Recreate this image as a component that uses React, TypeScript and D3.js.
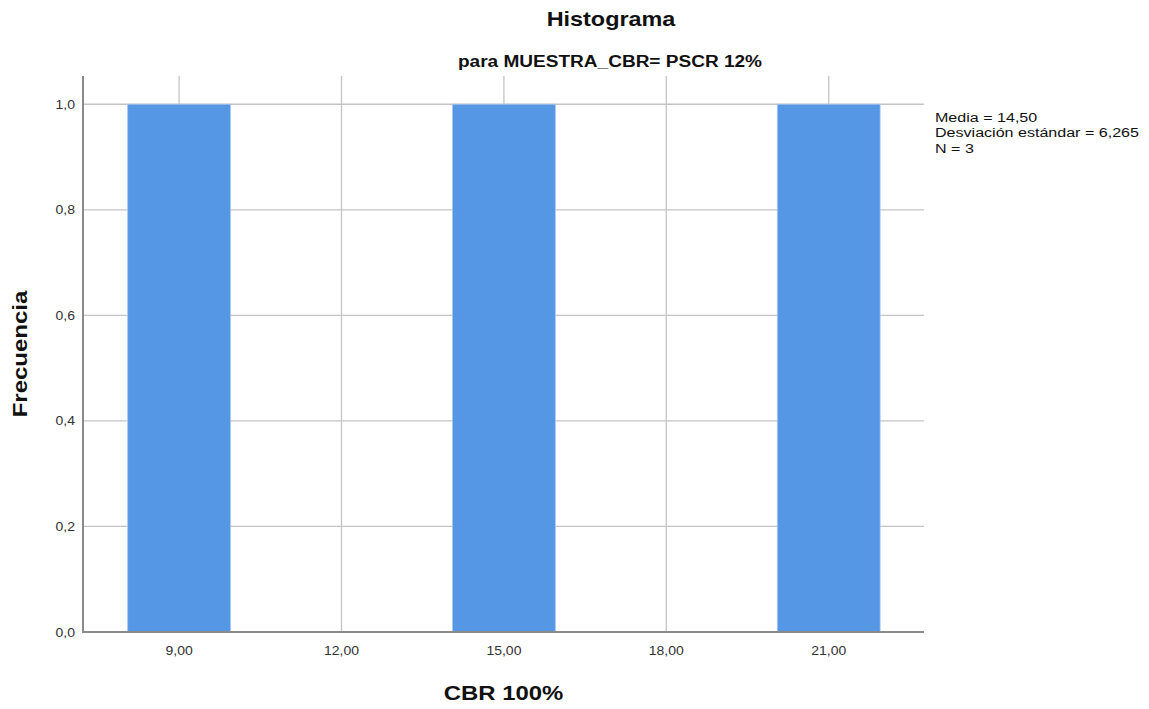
import React from "react";
import * as d3 from "d3";

// Histogram bins (CBR 100%) and frequencies
const binStart = [8.05, 14.05, 20.05];
const binEnd = [9.95, 15.95, 21.95];
const frequency = [1, 1, 1];

const xTicks = [9, 12, 15, 18, 21];
const yTicks = [0, 0.2, 0.4, 0.6, 0.8, 1.0];

const statsLines = ["Media = 14,50", "Desviación estándar = 6,265", "N = 3"];

const W = 1149;
const H = 709;
const plot = { left: 83, right: 924, top: 76, bottom: 632 };

const FONT = "'Liberation Sans', Arial, sans-serif";
// glyphs are drawn a little wider than the stock font
const WIDEN = 1.19;

type TProps = {
  x: number;
  y: number;
  size: number;
  anchor?: "start" | "middle" | "end";
  bold?: boolean;
  fill?: string;
  rotate?: number;
  sx?: number;
  children: React.ReactNode;
};

function T({ x, y, size, anchor = "start", bold = false, fill = "#111", rotate = 0, sx = WIDEN, children }: TProps) {
  return (
    <text
      transform={`translate(${x},${y}) rotate(${rotate}) scale(${sx},1)`}
      textAnchor={anchor}
      fontSize={size}
      fontWeight={bold ? "bold" : "normal"}
      fill={fill}
    >
      {children}
    </text>
  );
}

export default function App() {
  const x = d3.scaleLinear().domain([7.225, 22.76]).range([plot.left, plot.right]);
  const y = d3.scaleLinear().domain([0, 1.0535]).range([plot.bottom, plot.top]);
  const fmtX = (v: number) => d3.format(".2f")(v).replace(".", ",");
  const fmtY = (v: number) => d3.format(".1f")(v).replace(".", ",");

  return (
    <svg
      width={W}
      height={H}
      style={{ position: "absolute", left: 0, top: 0, background: "#fff" }}
      fontFamily={FONT}
    >
      <rect x={0} y={0} width={W} height={H} fill="#fff" />
      {/* grid */}
      {yTicks.filter((t) => t > 0).map((t) => (
        <line key={"gy" + t} x1={plot.left} x2={plot.right} y1={y(t)} y2={y(t)} stroke="#c4c4c4" strokeWidth={1.3} />
      ))}
      {xTicks.map((t) => (
        <line key={"gx" + t} x1={x(t)} x2={x(t)} y1={plot.top} y2={plot.bottom} stroke="#c4c4c4" strokeWidth={1.3} />
      ))}
      {/* bars */}
      {frequency.map((f, i) => (
        <rect
          key={"b" + i}
          x={x(binStart[i])}
          y={y(f)}
          width={x(binEnd[i]) - x(binStart[i])}
          height={y(0) - y(f)}
          fill="#5596e5"
          stroke="#a9c8f0"
          strokeWidth={0.8}
        />
      ))}
      {/* axes */}
      <line x1={plot.left} x2={plot.left} y1={plot.top} y2={plot.bottom + 1} stroke="#8a8a8a" strokeWidth={2} />
      <line x1={plot.left} x2={plot.right} y1={plot.bottom} y2={plot.bottom} stroke="#8a8a8a" strokeWidth={2} />
      {/* tick labels */}
      {yTicks.map((t) => (
        <T key={"ty" + t} x={75} y={y(t) + 4.5} size={12.5} anchor="end" fill="#333" sx={1.12}>
          {fmtY(t)}
        </T>
      ))}
      {xTicks.map((t) => (
        <T key={"tx" + t} x={x(t)} y={655} size={12.5} anchor="middle" fill="#333" sx={1.12}>
          {fmtX(t)}
        </T>
      ))}
      {/* titles */}
      <T x={611} y={25.5} size={19.5} anchor="middle" bold sx={1.2}>
        Histograma
      </T>
      <T x={610} y={66.5} size={16} anchor="middle" bold>
        para MUESTRA_CBR= PSCR 12%
      </T>
      <T x={503.5} y={700} size={20.5} anchor="middle" bold sx={1.167}>
        CBR 100%
      </T>
      <T x={27} y={354} size={20} anchor="middle" bold rotate={-90} sx={1.2}>
        Frecuencia
      </T>
      {/* summary statistics */}
      {statsLines.map((s, i) => (
        <T key={"s" + i} x={935} y={121.7 + i * 15.5} size={13.5}>
          {s}
        </T>
      ))}
    </svg>
  );
}
